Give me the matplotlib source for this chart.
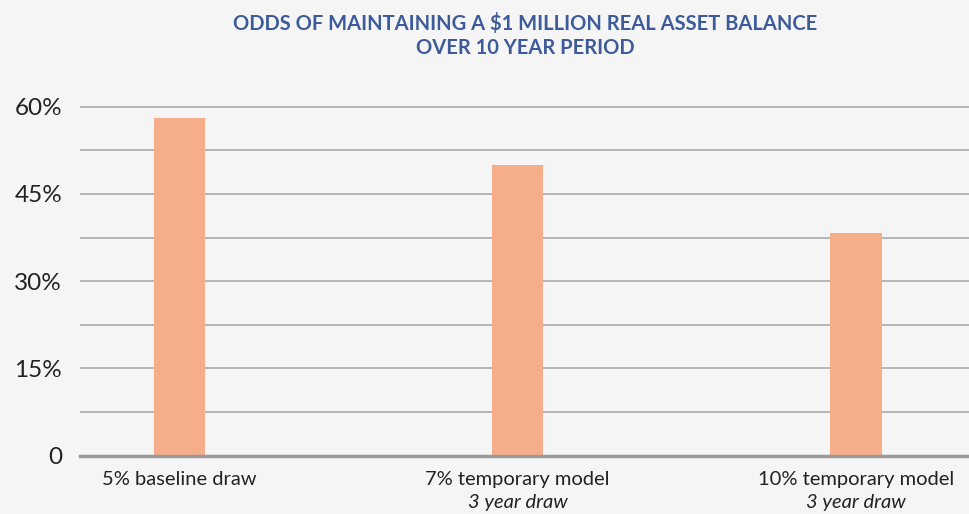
import numpy as np
import matplotlib.pyplot as plt
from matplotlib.ticker import MultipleLocator, FuncFormatter

categories = ["5% baseline draw", "7% temporary model", "10% temporary model"]
subtitles = ["", "3 year draw", "3 year draw"]
odds = [58.0, 50.0, 38.2]

bg = "#f5f5f5"
bar_color = "#f6ae8a"
title_color = "#3d5b9b"

plt.rcParams['font.family'] = ['Lato', 'DejaVu Sans']

fig = plt.figure(figsize=(9.69, 5.14), dpi=100, facecolor=bg)
ax = fig.add_axes([0.0826, 0.1134, 0.9174, 0.7018], facecolor=bg)

x = np.arange(len(categories))
ax.bar(x, odds, width=0.151, color=bar_color, zorder=3)

ax.set_xlim(-0.293, 2.334)
ax.set_ylim(0, 62)

ax.yaxis.set_major_locator(MultipleLocator(15))
ax.yaxis.set_minor_locator(MultipleLocator(7.5))
ax.yaxis.set_major_formatter(FuncFormatter(lambda v, p: "0" if v == 0 else f"{v:.0f}%"))
ax.grid(axis='y', which='both', color='#b0b0b0', linewidth=1.3, zorder=1)
ax.tick_params(axis='y', which='both', length=0, pad=13, labelsize=17.5, labelcolor='#222222')

ax.set_xticks(x)
ax.set_xticklabels(categories, fontsize=14.5, color='#222222')
ax.tick_params(axis='x', length=0, pad=11)
for xi, sub in zip(x, subtitles):
    if sub:
        ax.annotate(sub, xy=(xi, 0), xycoords=('data', 'axes fraction'),
                    xytext=(0, -34), textcoords='offset points', ha='center', va='center',
                    fontsize=14.5, style='italic', color='#222222')

for s in ['top', 'right', 'left']:
    ax.spines[s].set_visible(False)
ax.spines['bottom'].set_color('#999999')
ax.spines['bottom'].set_linewidth(2.5)
ax.spines['bottom'].set_zorder(4)

fig.text(0.542, 0.975, "ODDS OF MAINTAINING A $1 MILLION REAL ASSET BALANCE\nOVER 10 YEAR PERIOD",
         ha='center', va='top', fontsize=14.5, fontweight='bold', color=title_color,
         linespacing=1.25)

fig.savefig("out.png", dpi=100, facecolor=bg)
